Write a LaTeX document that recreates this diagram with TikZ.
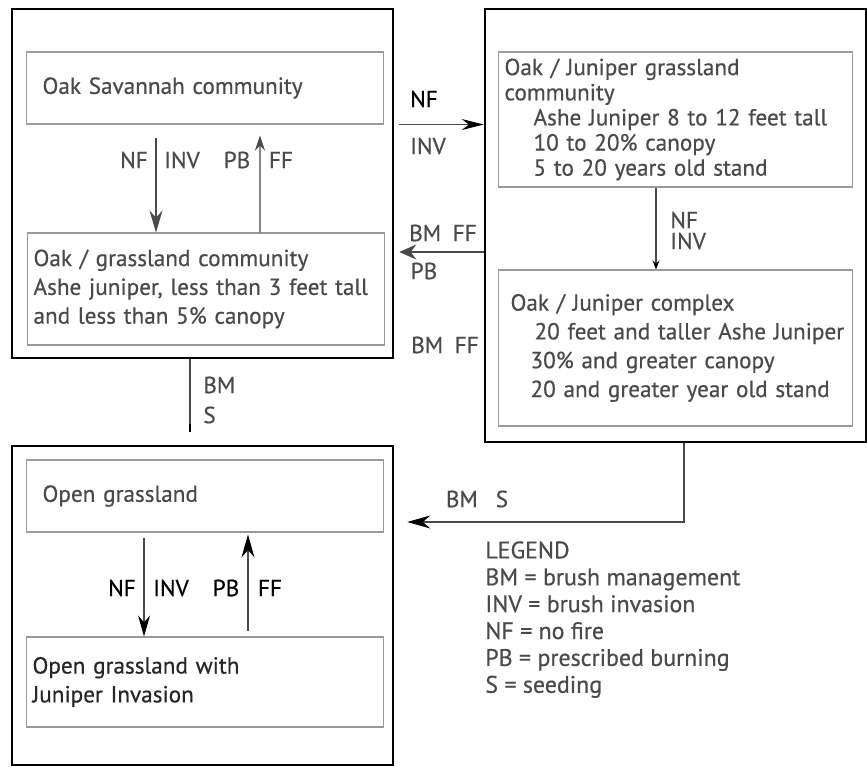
\documentclass[tikz,border=0pt]{standalone}
\usepackage{fontspec}
\setmainfont{PT Sans}[FakeBold=0.5]
\usetikzlibrary{arrows.meta}
\definecolor{inkgrey}{HTML}{4A4A4A}
\definecolor{boxgrey}{HTML}{9A9A9A}
\begin{document}
\begin{tikzpicture}
            [x=0.02cm,y=-0.02cm,
             Outer/.style={draw=black,line width=1.5pt,minimum width=7.62cm,inner sep=0pt},
             Inner/.style={draw=boxgrey,line width=0.6pt,inner xsep=0.13cm,inner ysep=0pt,align=left,
                           text=inkgrey,font=\fontsize{13.2}{16.4}\selectfont},
             Lab/.style={text=inkgrey,font=\fontsize{13.2}{15.3}\selectfont,inner sep=0pt},
             Flow/.style={draw=inkgrey,line width=0.6pt}];
            \useasboundingbox (0,0) rectangle (867,767);

            \node[Outer,minimum height=6.98cm] (savbox) at (202.5,183.5) {};
            \node[Outer,minimum height=8.66cm] (jungbox) at (675.5,225.5) {};
            \node[Outer,minimum height=6.38cm] (openbox) at (202.5,605.5) {};

            \node[Inner,text width=6.9cm,minimum height=1.44cm] (savtop) at (205,88)
                {\hspace*{0.2cm}Oak Savannah community};
            \node[Inner,text width=6.9cm,minimum height=2.24cm] (oakgrass) at (206,289)
                {Oak / grassland community\\Ashe juniper, less than 3 feet tall\\and less than 5\% canopy};
            \node[Inner,text width=6.84cm,minimum height=2.7cm,font=\fontsize{13.2}{14.3}\selectfont] (jungrass) at (675.5,119.5)
                {Oak / Juniper grassland\\community\\\hspace*{0.58cm}Ashe Juniper 8 to 12 feet tall\\
                 \hspace*{0.58cm}10 to 20\% canopy\\\hspace*{0.58cm}5 to 20 years old stand};
            \node[Inner,text width=6.84cm,minimum height=3.12cm] (jungcomplex) at (675.5,348)
                {\hspace*{0.12cm}Oak / Juniper complex\\\hspace*{0.6cm}\mbox{20 feet and taller Ashe Juniper}\\
                 \hspace*{0.52cm}30\% and greater canopy\\\hspace*{0.52cm}20 and greater year old stand};
            \node[Inner,text width=6.9cm,minimum height=1.44cm] (opengrass) at (205,496)
                {\hspace*{0.2cm}Open grassland};
            \node[Inner,text width=6.9cm,minimum height=1.8cm,text=black!85] (openinv) at (205,682)
                {Open grassland with\\Juniper Invasion};

            \draw[Flow,shorten <=0.1cm,-{Stealth[length=0.44cm,width=0.22cm,color=black]}]
                (savtop.south -| savbox.east) -- (savtop.south -| jungbox.west);
            \coordinate (backrow) at (440,252);
            \draw[Flow,shorten >=0.1cm,-{Stealth[length=0.34cm,width=0.3cm]}]
                (jungbox.west |- backrow) -- (savbox.east |- backrow);

            \draw[Flow,shorten <=0.26cm,-{Stealth[length=0.44cm,width=0.26cm]}]
                ([xshift=-0.98cm]savtop.south) -- ([xshift=-1cm]oakgrass.north);
            \draw[Flow,shorten >=0.22cm,-{Stealth[length=0.3cm,width=0.2cm]}]
                ([xshift=1.08cm]oakgrass.north) -- ([xshift=1.1cm]savtop.south);

            \draw[Flow,-{Stealth[length=0.18cm,width=0.14cm,color=black]}]
                ([xshift=-0.39cm]jungrass.south) -- ([xshift=-0.39cm]jungcomplex.north);

            \draw[Flow,shorten <=0.1cm,-{Stealth[length=0.42cm,width=0.24cm,color=black]}]
                ([xshift=-1.22cm]opengrass.south) -- ([xshift=-1.22cm]openinv.north);
            \draw[Flow,shorten <=0.1cm,shorten >=0.04cm,-{Stealth[length=0.46cm,width=0.26cm,color=black]}]
                ([xshift=0.86cm]openinv.north) -- ([xshift=0.86cm]opengrass.south);

            \coordinate (bsend) at (190,432);
            \draw[Flow] (savbox.south -| bsend) -- (bsend);
            \draw[line width=1.2pt] (190,424) -- (bsend);

            \coordinate (bcturn) at (684,522);
            \draw[Flow,shorten >=0.26cm,-{Stealth[length=0.46cm,width=0.26cm,color=black]}]
                (jungbox.south -| bcturn) -- (bcturn) -- (openbox.east |- bcturn);

            \node[Lab] (nfa) at (134,160) {NF};
            \node[Lab] (inva) at (182,160) {INV};
            \node[Lab] (pba) at (237,160) {PB};
            \node[Lab] (ffa) at (281,160) {FF};

            \node[Lab,text=black] (nfab) at (424,99) {NF};
            \node[Lab] (invab) at (428,146) {INV};
            \node[Lab] (bmba) at (443,233) {BM\enspace FF};
            \node[Lab] (pbba) at (424,271) {PB};
            \node[Lab] (bmlone) at (445,345) {BM\enspace FF};

            \node[Lab,anchor=west] (nfb) at (670,220) {NF};
            \node[Lab,anchor=west] (invb) at (670,241) {INV};

            \node[Lab,anchor=west] (bmac) at (203,385) {BM};
            \node[Lab,anchor=west] (sac) at (203,415) {S};

            \node[Lab,text=black] (nfc) at (122,588) {NF};
            \node[Lab,text=black] (invc) at (171,588) {INV};
            \node[Lab,text=black] (pbc) at (226,588) {PB};
            \node[Lab,text=black] (ffc) at (270,588) {FF};

            \node[Lab] (bmbc) at (477,499) {BM\hspace{0.36cm}S};

            \node[Lab,align=left,anchor=north west,font=\fontsize{13.6}{15.3}\selectfont] (legend) at (485,541)
                {LEGEND\\BM = brush management\\INV = brush invasion\\NF = no fire\\
                 PB = prescribed burning\\S = seeding};
        \end{tikzpicture}
\end{document}
